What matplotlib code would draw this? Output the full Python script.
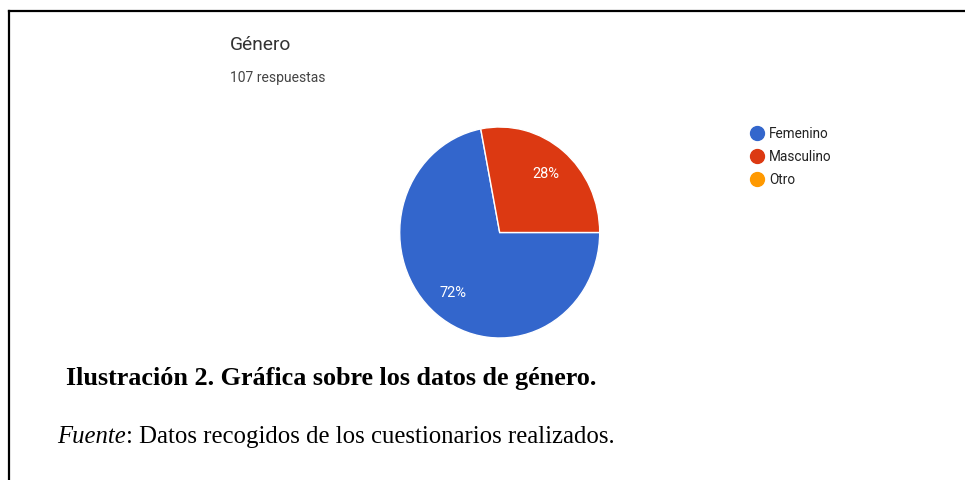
import matplotlib.pyplot as plt
from matplotlib.lines import Line2D

# datos del cuestionario (107 respuestas)
categorias = ['Femenino', 'Masculino', 'Otro']
respuestas = [77, 30, 0]
colores = ['#3366CC', '#DC3912', '#FF9900']
total = sum(respuestas)

W, H = 965, 481
fig = plt.figure(figsize=(W / 100, H / 100), dpi=100)
fig.patch.set_facecolor('white')

# marco del documento (arriba e izquierda)
fig.add_artist(Line2D([9 / W, 9 / W], [0, 1 - 12 / H], color='black', lw=1.6))
fig.add_artist(Line2D([9 / W, 1], [1 - 12 / H, 1 - 12 / H], color='black', lw=1.6))

# encabezado estilo Google Forms
fig.text(230 / W, 1 - 45 / H, 'Género', family='Roboto', fontsize=13.8,
         color='#333333', va='center', ha='left')
fig.text(230 / W, 1 - 78 / H, f'{total} respuestas', family='Roboto', fontsize=10,
         color='#444444', va='center', ha='left')

# pastel (la imagen original está algo estirada en vertical)
cx, cy, rx, ry = 499.7, 233.5, 100, 105.5
ax = fig.add_axes([(cx - rx) / W, (H - cy - ry) / H, 2 * rx / W, 2 * ry / H])
vals = [v for v in respuestas if v > 0]
cols = [c for v, c in zip(respuestas, colores) if v > 0]
wedges, textos, autotextos = ax.pie(
    vals, colors=cols, startangle=0, counterclock=False,
    autopct=lambda p: f'{p:.0f}%', pctdistance=0.73,
    wedgeprops=dict(edgecolor='white', linewidth=1),
    textprops=dict(color='white', family='Roboto', fontsize=10.5))
ax.set_xlim(-1, 1)
ax.set_ylim(-1, 1)
ax.set_aspect('auto')
ax.axis('off')

# leyenda
for i, (cat, col) in enumerate(zip(categorias, colores)):
    y = 1 - (134 + 23 * i) / H
    fig.add_artist(Line2D([757 / W], [y], marker='o', markersize=10,
                          markerfacecolor=col, markeredgecolor=col, linestyle='none'))
    fig.text(769 / W, y, cat, family='Roboto', fontsize=9.8, color='#222222',
             va='center', ha='left')

# pie de figura
fig.text(66 / W, 1 - 378 / H, 'Ilustración 2. Gráfica sobre los datos de género.',
         family='Liberation Serif', fontweight='bold', fontsize=18.8,
         color='black', va='center', ha='left')
t1 = fig.text(57 / W, 1 - 437 / H, 'Fuente', family='Liberation Serif', style='italic',
              fontsize=17.8, color='black', va='center', ha='left')
fig.canvas.draw()
bb = t1.get_window_extent()
fig.text(bb.x1 / W, 1 - 437 / H, ': Datos recogidos de los cuestionarios realizados.',
         family='Liberation Serif', fontsize=17.8, color='black', va='center', ha='left')

fig.savefig('out.png', dpi=100, facecolor='white')
